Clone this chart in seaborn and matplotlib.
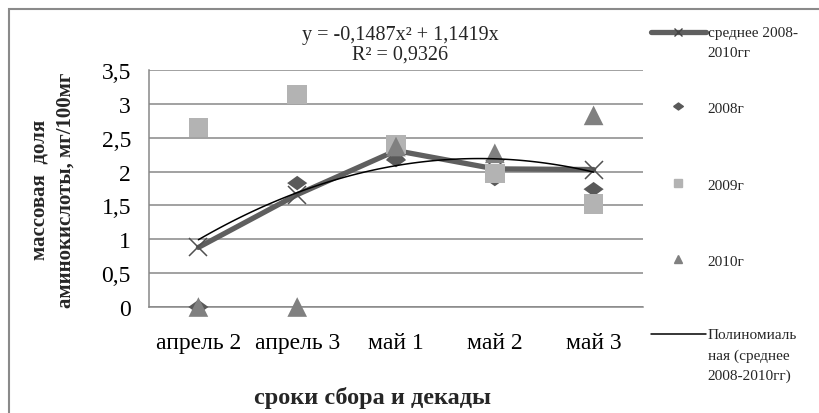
import matplotlib
matplotlib.use("Agg")
import matplotlib.pyplot as plt
from matplotlib.lines import Line2D
from matplotlib.patches import Rectangle
from matplotlib.ticker import FuncFormatter, MultipleLocator
from matplotlib.legend_handler import HandlerLine2D
import seaborn as sns
import pandas as pd
import numpy as np

# data
periods = ["апрель 2", "апрель 3", "май 1", "май 2", "май 3"]
mean_0810 = [0.88, 1.66, 2.31, 2.04, 2.03]
y2008 = [0.0, 1.83, 2.17, 1.89, 1.74]
y2009 = [2.65, 3.14, 2.40, 1.97, 1.52]
y2010 = [0.0, 0.0, 2.37, 2.27, 2.83]
# Excel polynomial trendline shown on the chart (x = 1..5)
trend_coef = [-0.1487, 1.1419, 0.0]

df = pd.DataFrame({
    "period": periods,
    "pos": range(len(periods)),
    "mean": mean_0810,
    "2008": y2008,
    "2009": y2009,
    "2010": y2010,
})

sns.set_theme(style="white")
plt.rcParams["font.family"] = ["Liberation Serif", "DejaVu Serif"]

W, H = 820, 414
fig = plt.figure(figsize=(W / 100, H / 100), dpi=100)
ax = fig.add_axes([149 / W, 106 / H, 494 / W, 237 / H])

c_mean = "#5f5f5f"
c_08 = "#595959"
c_09 = "#b3b3b3"
c_10 = "#808080"
wide_diamond = [(-1, 0), (0, 0.72), (1, 0), (0, -0.72), (-1, 0)]

sns.lineplot(data=df, x="pos", y="mean", color=c_mean, linewidth=3.8,
             marker="x", markersize=13, markeredgewidth=1.1,
             markeredgecolor="#505050", ax=ax, zorder=2, clip_on=False)
sns.scatterplot(data=df, x="pos", y="2008", marker=wide_diamond, s=210,
                color=c_08, edgecolor="none", ax=ax, zorder=3, clip_on=False)
sns.scatterplot(data=df, x="pos", y="2009", marker="s", s=200, color=c_09,
                edgecolor="none", ax=ax, zorder=4, clip_on=False)
sns.scatterplot(data=df, x="pos", y="2010", marker="^", s=200, color=c_10,
                edgecolor="none", ax=ax, zorder=5, clip_on=False)

xs = np.linspace(1, len(periods), 100)
sns.lineplot(x=xs - 1, y=np.polyval(trend_coef, xs), color="black",
             linewidth=1.1, ax=ax, zorder=6)

ax.set_xlim(-0.5, len(periods) - 0.5)
ax.set_ylim(0, 3.5)
ax.yaxis.set_major_locator(MultipleLocator(0.5))
ax.yaxis.set_major_formatter(FuncFormatter(lambda v, p: f"{v:g}".replace(".", ",")))
ax.set_xticks(df["pos"], periods)
ax.set_xlabel("")
ax.set_ylabel("")
ax.tick_params(axis="both", length=0, labelsize=17, colors="black")
ax.tick_params(axis="y", pad=13)
ax.tick_params(axis="x", pad=18)
ax.grid(axis="y", color="#878787", linewidth=1.1)
ax.set_axisbelow(True)
for side in ["top", "right"]:
    ax.spines[side].set_visible(False)
for side in ["left", "bottom"]:
    ax.spines[side].set_color("#878787")
    ax.spines[side].set_linewidth(1.1)

fig.text(400 / W, 1 - 45 / H, "y = -0,1487x² + 1,1419x\nR² = 0,9326",
         ha="center", va="center", fontsize=14.5, linespacing=1.05)
fig.text(373 / W, 1 - 398 / H, "сроки сбора и декады", ha="center",
         va="center", fontsize=17.5, fontweight="bold")
fig.text(53 / W, 1 - 190 / H, "массовая  доля\nаминокислоты, мг/100мг",
         rotation=90, ha="center", va="center", fontsize=15,
         fontweight="bold", multialignment="center", linespacing=1.4)


class FirstLineHandler(HandlerLine2D):
    """Put the legend key level with the first line of a wrapped label."""

    def __init__(self, shift=0.0, **kw):
        super().__init__(**kw)
        self.shift = shift

    def create_artists(self, legend, orig_handle, xdescent, ydescent,
                       width, height, fontsize, trans):
        arts = super().create_artists(legend, orig_handle, xdescent, ydescent,
                                      width, height, fontsize, trans)
        for a in arts:
            a.set_ydata(np.asarray(a.get_ydata()) + self.shift * fontsize)
        return arts


# legend, one entry at a time so the spacing matches the Excel layout
h_mean = Line2D([], [], color=c_mean, lw=3.8, marker="x", ms=6, mew=1, mec="#444444")
h_08 = Line2D([], [], ls="", marker=wide_diamond, ms=7, color=c_08)
h_09 = Line2D([], [], ls="", marker="s", ms=6, color=c_09)
h_10 = Line2D([], [], ls="", marker="^", ms=6, color=c_10)
h_tr = Line2D([], [], color="black", lw=1.1)

leg_items = [
    (h_mean, "среднее 2008-\n2010гг", 33),
    (h_08, "2008г", 108),
    (h_09, "2009г", 185),
    (h_10, "2010г", 261),
    (h_tr, "Полиномиаль\nная (среднее\n2008-2010гг)", 335),
]
leg_fs = 11
leg_ls = 1.7
pitch = 1.37
for h, lab, yc in leg_items:
    n = lab.count("\n")
    leg = fig.legend(handles=[h], labels=[lab], loc="upper left",
                     bbox_to_anchor=(651 / W, 1 - (yc - 6) / H),
                     frameon=False, fontsize=leg_fs, borderpad=0,
                     borderaxespad=0, handlelength=3.6, handletextpad=0.12,
                     handleheight=0.7,
                     handler_map={h: FirstLineHandler(shift=n * pitch / 2)})
    for t in leg.get_texts():
        t.set_linespacing(leg_ls)

fig.patches.append(Rectangle((8.5 / W, -0.1), 1.2, 0.1 + 1 - 10 / H,
                             transform=fig.transFigure, fill=False,
                             edgecolor="#8a8a8a", linewidth=1.5))

fig.savefig("out.png", dpi=100)
